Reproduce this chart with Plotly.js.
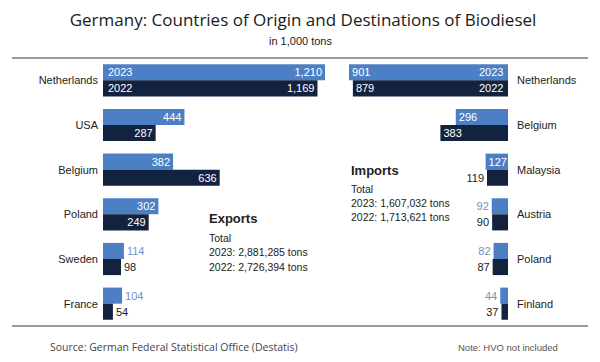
<!DOCTYPE html>
<html>
<head>
<meta charset="utf-8">
<script src="https://cdn.plot.ly/plotly-3.0.1.min.js"></script>
<style>html,body{margin:0;padding:0;background:#fff;}#chart{width:600px;height:362px;}</style>
</head>
<body>
<div id="chart"></div>
<script>
// Exports (destinations)
const exportCountries = ["Netherlands", "USA", "Belgium", "Poland", "Sweden", "France"];
const exports2023 = [1210, 444, 382, 302, 114, 104];
const exports2022 = [1169, 287, 636, 249, 98, 54];
// Imports (origins)
const importCountries = ["Netherlands", "Belgium", "Malaysia", "Austria", "Poland", "Finland"];
const imports2023 = [901, 296, 127, 92, 82, 44];
const imports2022 = [879, 383, 119, 90, 87, 37];

const exportsTotals = ["Total", "2023: 2,881,285 tons", "2022: 2,726,394 tons"];
const importsTotals = ["Total", "2023: 1,607,032 tons", "2022: 1,713,621 tons"];

const C23 = "#4d7fc4", C22 = "#13233f", OUT23 = "#7393c2", OUT22 = "#222222";
const W = 600, H = 362, T = 58, B = 36;
const py = p => (H - B - p) / (H - T - B);
const px = p => p / W;
const fmt = v => v.toLocaleString("en-US");

function pos(vals, minInside) { return vals.map(v => v >= minInside ? "inside" : "outside"); }

const common = {
  type: "bar", orientation: "h", cliponaxis: false, hoverinfo: "skip",
  insidetextanchor: "end", constraintext: "none",
  insidetextfont: {color: "#ffffff", size: 11, family: "Liberation Sans, Arial, sans-serif"}
};

const traces = [
  Object.assign({}, common, {
    x: exports2023, y: exportCountries, xaxis: "x", yaxis: "y", name: "2023",
    marker: {color: C23}, text: exports2023.map(fmt), textposition: pos(exports2023, 200),
    outsidetextfont: {color: OUT23, size: 11, family: "Liberation Sans, Arial, sans-serif"}
  }),
  Object.assign({}, common, {
    x: exports2022, y: exportCountries, xaxis: "x", yaxis: "y", name: "2022",
    marker: {color: C22}, text: exports2022.map(fmt), textposition: pos(exports2022, 200),
    outsidetextfont: {color: OUT22, size: 11, family: "Liberation Sans, Arial, sans-serif"}
  }),
  Object.assign({}, common, {
    x: imports2023, y: importCountries, xaxis: "x2", yaxis: "y2", name: "2023",
    marker: {color: C23}, text: imports2023.map(fmt), textposition: pos(imports2023, 120),
    outsidetextfont: {color: OUT23, size: 11, family: "Liberation Sans, Arial, sans-serif"}
  }),
  Object.assign({}, common, {
    x: imports2022, y: importCountries, xaxis: "x2", yaxis: "y2", name: "2022",
    marker: {color: C22}, text: imports2022.map(fmt), textposition: pos(imports2022, 200),
    outsidetextfont: {color: OUT22, size: 11, family: "Liberation Sans, Arial, sans-serif"}
  })
];

const labelFont = {family: "Liberation Sans, Arial, sans-serif", size: 11, color: "#222"};
const txtFont = {family: "Liberation Sans, Arial, sans-serif", size: 10.5, color: "#222"};

function note(text, x, y, font, xanchor) {
  return {text: text, xref: "paper", yref: "paper", x: x, y: y, xanchor: xanchor || "left",
    yanchor: "middle", showarrow: false, font: font};
}

const annotations = [
  note("in 1,000 tons", 0.5, py(41), {family: "Liberation Sans, Arial, sans-serif", size: 11, color: "#222"}, "center"),
  note("Source: German Federal Statistical Office (Destatis)", px(48), py(347),
    {family: "Open Sans, sans-serif", size: 10.5, color: "#444"}),
  note("Note: HVO not included", px(456), py(347),
    {family: "Liberation Sans, Arial, sans-serif", size: 9.5, color: "#555"}),
  // year labels inside Netherlands bars
  {text: "2023", xref: "x", yref: "y", x: 0, y: exportCountries[0], xanchor: "left", yanchor: "middle", xshift: 3, yshift: 8,
   showarrow: false, font: {family: "Liberation Sans, Arial, sans-serif", size: 11, color: "#fff"}},
  {text: "2022", xref: "x", yref: "y", x: 0, y: exportCountries[0], xanchor: "left", yanchor: "middle", xshift: 3, yshift: -8,
   showarrow: false, font: {family: "Liberation Sans, Arial, sans-serif", size: 11, color: "#fff"}},
  {text: "2023", xref: "x2", yref: "y2", x: 0, y: importCountries[0], xanchor: "right", yanchor: "middle", xshift: -3, yshift: 8,
   showarrow: false, font: {family: "Liberation Sans, Arial, sans-serif", size: 11, color: "#fff"}},
  {text: "2022", xref: "x2", yref: "y2", x: 0, y: importCountries[0], xanchor: "right", yanchor: "middle", xshift: -3, yshift: -8,
   showarrow: false, font: {family: "Liberation Sans, Arial, sans-serif", size: 11, color: "#fff"}},
  note("<b>Exports</b>", px(207), py(218), {family: "Liberation Sans, Arial, sans-serif", size: 13, color: "#222"}),
  note("<b>Imports</b>", px(349), py(170), {family: "Liberation Sans, Arial, sans-serif", size: 13, color: "#222"})
];
exportsTotals.forEach((t, i) => annotations.push(note(t, px(207), py(237.5 + i * 14.5), txtFont)));
importsTotals.forEach((t, i) => annotations.push(note(t, px(349), py(189 + i * 14), txtFont)));

const layout = {
  width: W, height: H, margin: {l: 0, r: 0, t: T, b: B},
  paper_bgcolor: "#fff", plot_bgcolor: "rgba(0,0,0,0)",
  showlegend: false, barmode: "group", bargap: 0.28, bargroupgap: 0,
  title: {text: "Germany: Countries of Origin and Destinations of Biodiesel",
    x: 0.505, xanchor: "center", y: 1 - 20 / H, yanchor: "middle", yref: "container",
    font: {family: "Open Sans, sans-serif", size: 17, color: "#1a1a1a"}},
  xaxis: {domain: [px(103), px(325)], range: [0, 1210], visible: false, fixedrange: true},
  yaxis: {anchor: "x", autorange: "reversed", showgrid: false, zeroline: false, showline: false,
    ticks: "", ticklabelstandoff: 4, tickfont: labelFont, domain: [0, 1]},
  xaxis2: {domain: [px(349), px(508)], range: [901, 0], visible: false, fixedrange: true},
  yaxis2: {anchor: "x2", side: "right", autorange: "reversed", showgrid: false, zeroline: false,
    showline: false, ticks: "", ticklabelstandoff: 8, tickfont: labelFont, domain: [0, 1]},
  shapes: [
    {type: "line", xref: "paper", yref: "paper", x0: px(12), x1: px(588), y0: 1, y1: 1,
     line: {color: "#7a7a7a", width: 1.5}},
    {type: "line", xref: "paper", yref: "paper", x0: px(12), x1: px(588), y0: 0, y1: 0,
     line: {color: "#7a7a7a", width: 1.5}}
  ],
  annotations: annotations
};

Plotly.newPlot("chart", traces, layout, {staticPlot: true, displayModeBar: false});
</script>
</body>
</html>
